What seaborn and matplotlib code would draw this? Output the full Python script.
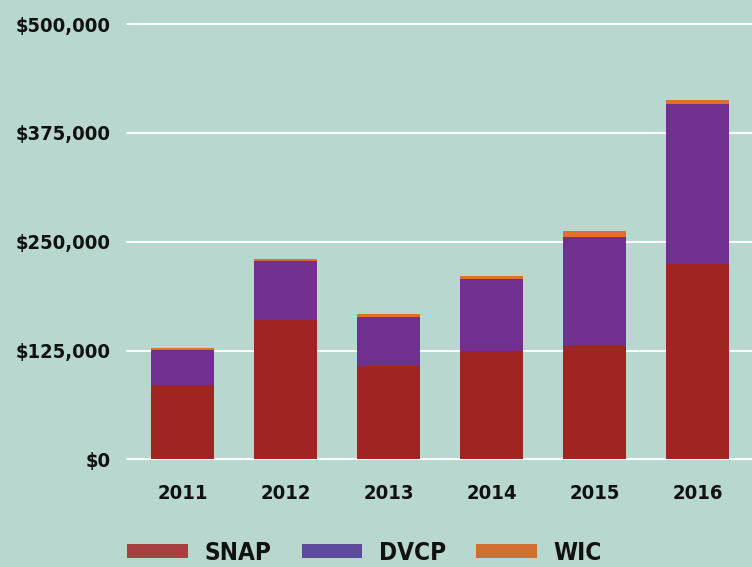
import matplotlib
matplotlib.use("Agg")
import matplotlib.pyplot as plt
from matplotlib.patches import Patch
from matplotlib.ticker import FuncFormatter
import seaborn as sns
import pandas as pd

# values (dollars)
years = ["2011", "2012", "2013", "2014", "2015", "2016"]
snap = [86000, 160000, 107000, 125000, 130000, 224000]
dvcp = [40000, 68000, 57000, 82000, 126000, 184000]
wic = [2500, 2000, 3500, 3500, 6000, 4500]
y_ticks = [0, 125000, 250000, 375000, 500000]

bg = "#B7D7CF"
bar_colors = {"SNAP": "#A02422", "DVCP": "#713090", "WIC": "#E07028"}
legend_colors = {"SNAP": "#A84040", "DVCP": "#5E4A9A", "WIC": "#D07030"}

df = pd.DataFrame({"year": years, "SNAP": snap, "DVCP": dvcp, "WIC": wic})
df["snap_dvcp"] = df["SNAP"] + df["DVCP"]
df["total"] = df["snap_dvcp"] + df["WIC"]

sns.set_style("white")
plt.rcParams["font.family"] = ["DejaVu Sans"]
plt.rcParams["font.stretch"] = "condensed"

fig = plt.figure(figsize=(7.52, 5.67), dpi=100, facecolor=bg)
ax = fig.add_axes([0.169, 0.1896, 0.831, 0.768])
ax.set_facecolor(bg)

# stacked bars: draw cumulative totals from back to front
sns.barplot(data=df, x="year", y="total", color=bar_colors["WIC"], width=0.61,
            saturation=1, ax=ax, zorder=3)
sns.barplot(data=df, x="year", y="snap_dvcp", color=bar_colors["DVCP"], width=0.61,
            saturation=1, ax=ax, zorder=3)
sns.barplot(data=df, x="year", y="SNAP", color=bar_colors["SNAP"], width=0.61,
            saturation=1, ax=ax, zorder=3)
for p in ax.patches:
    p.set_linewidth(0)

ax.set_xlim(-0.54, 5.53)
ax.set_ylim(0, 500000)
ax.set_yticks(y_ticks)
ax.yaxis.set_major_formatter(FuncFormatter(lambda v, _: "${:,.0f}".format(v)))
ax.grid(axis="y", color="white", linewidth=1.5, zorder=0)
for gl in ax.get_ygridlines():
    gl.set_clip_on(False)
ax.set_axisbelow(True)
sns.despine(ax=ax, left=True, bottom=True)

ax.tick_params(axis="y", length=0, pad=12, labelsize=14.5)
ax.tick_params(axis="x", length=0, pad=18, labelsize=14.5)
for lab in ax.get_yticklabels() + ax.get_xticklabels():
    lab.set_fontweight("bold")
    lab.set_fontstretch("condensed")
    lab.set_color("#111111")
ax.set_xlabel("")
ax.set_ylabel("")

handles = [Patch(facecolor=legend_colors[k], edgecolor="none", label=k)
           for k in ["SNAP", "DVCP", "WIC"]]
leg = fig.legend(handles=handles, loc="lower left", bbox_to_anchor=(0.169, 0.004),
                 borderaxespad=0, borderpad=0,
                 ncol=3, frameon=False, handlelength=2.5, handleheight=0.52,
                 handletextpad=0.68, columnspacing=1.25,
                 prop={"family": "DejaVu Sans", "stretch": "condensed",
                       "weight": "bold", "size": 17.5})
for t in leg.get_texts():
    t.set_color("#111111")

fig.savefig("out.png", dpi=100, facecolor=bg)
